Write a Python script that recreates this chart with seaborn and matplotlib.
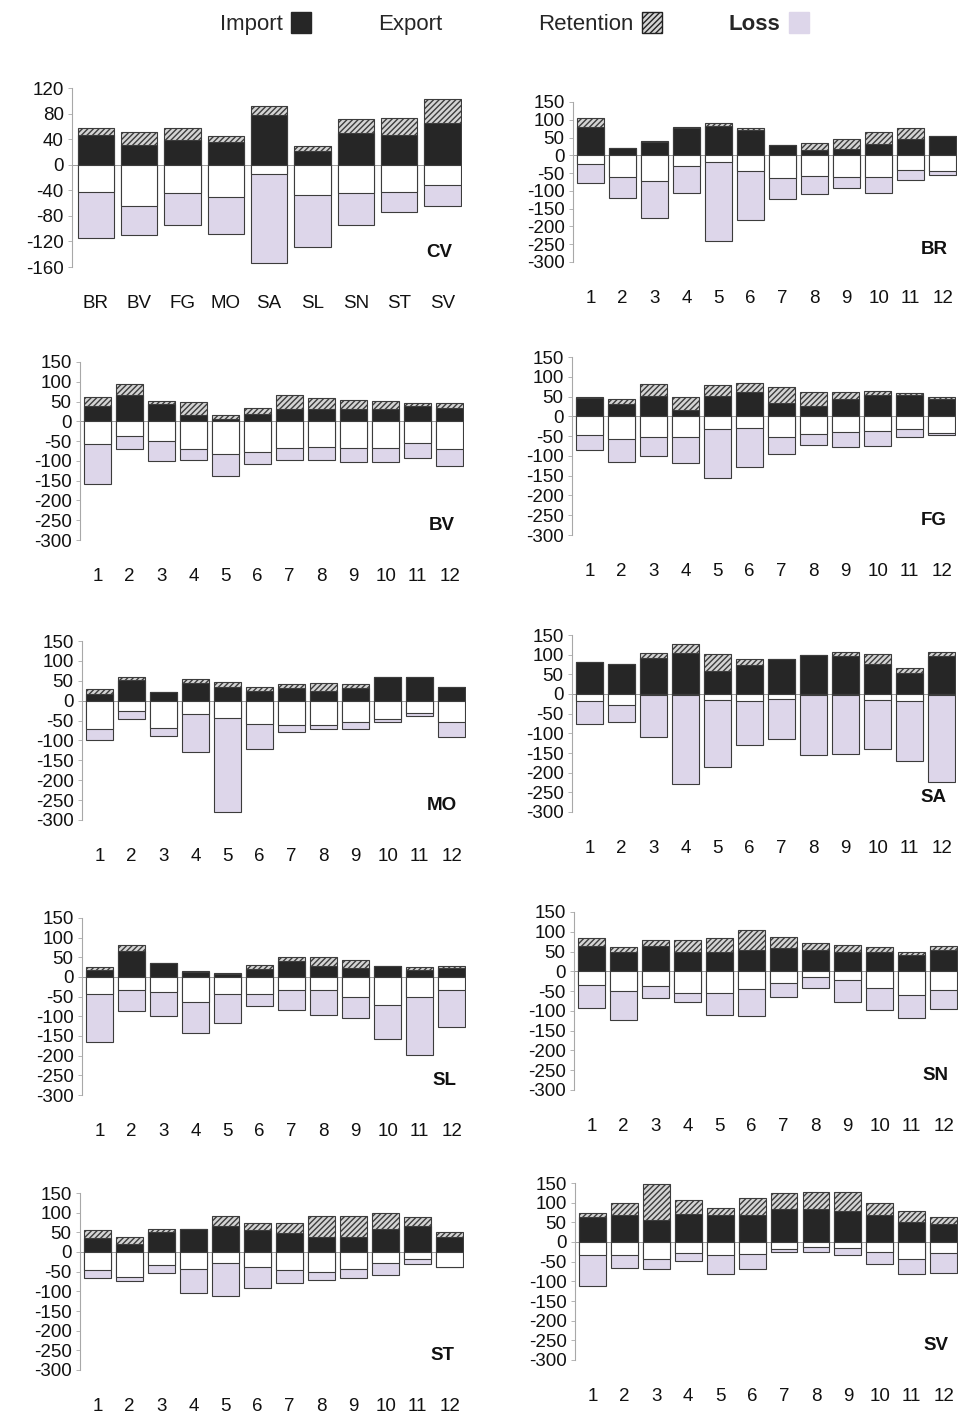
import numpy as np
import matplotlib.pyplot as plt
import seaborn as sns
from matplotlib.patches import Patch

sites = ['BR', 'BV', 'FG', 'MO', 'SA', 'SL', 'SN', 'ST', 'SV']
months = [str(m) for m in range(1, 13)]

# CV panel: one bar per site
cv_import = [46, 31, 38, 35, 78, 21, 50, 46, 65]
cv_retention = [12, 20, 20, 10, 14, 8, 21, 27, 38]
cv_export = [43, 64, 45, 50, 15, 48, 45, 42, 32]
cv_loss = [72, 46, 50, 58, 138, 80, 50, 32, 33]

# monthly panels (export and loss as magnitudes, drawn below zero)
br_import = [80, 20, 38, 78, 83, 70, 29, 16, 19, 32, 46, 53]
br_retention = [24, 0, 2, 2, 7, 7, 0, 20, 26, 34, 31, 0]
br_export = [25, 60, 72, 30, 20, 43, 64, 59, 62, 62, 41, 43]
br_loss = [53, 60, 104, 75, 221, 139, 58, 51, 30, 45, 27, 13]

bv_import = [40, 67, 44, 17, 7, 19, 32, 32, 32, 30, 38, 33]
bv_retention = [22, 27, 8, 31, 8, 14, 35, 26, 23, 22, 8, 14]
bv_export = [58, 37, 49, 71, 83, 78, 68, 66, 67, 68, 56, 69]
bv_loss = [100, 32, 51, 26, 55, 30, 31, 33, 37, 34, 37, 43]

fg_import = [47, 30, 51, 15, 52, 61, 34, 27, 45, 55, 54, 45]
fg_retention = [1, 14, 32, 34, 26, 24, 40, 35, 17, 9, 4, 3]
fg_export = [47, 58, 53, 53, 32, 30, 51, 44, 40, 36, 32, 41]
fg_loss = [38, 57, 47, 66, 123, 98, 43, 28, 38, 39, 21, 6]

mo_import = [17, 52, 23, 44, 35, 24, 31, 25, 31, 59, 59, 34]
mo_retention = [12, 8, 0, 10, 13, 11, 11, 19, 11, 1, 0, 0]
mo_export = [70, 26, 68, 34, 43, 59, 61, 61, 53, 46, 30, 53]
mo_loss = [29, 20, 20, 94, 236, 63, 19, 11, 18, 8, 9, 39]

sa_import = [82, 76, 92, 105, 59, 74, 89, 98, 97, 76, 53, 97]
sa_retention = [0, 0, 11, 21, 42, 14, 0, 0, 9, 25, 14, 9]
sa_export = [17, 28, 3, 3, 15, 17, 13, 3, 3, 15, 18, 3]
sa_loss = [58, 44, 107, 225, 170, 113, 102, 152, 150, 126, 152, 220]

sl_import = [19, 67, 36, 12, 8, 21, 40, 29, 23, 27, 19, 23]
sl_retention = [6, 14, 0, 2, 2, 10, 11, 22, 19, 1, 6, 4]
sl_export = [43, 34, 39, 64, 42, 42, 34, 34, 51, 70, 51, 34]
sl_loss = [121, 52, 59, 79, 75, 31, 51, 62, 52, 88, 147, 93]

sn_import = [65, 50, 63, 48, 48, 54, 59, 54, 48, 48, 42, 53]
sn_retention = [19, 11, 17, 30, 36, 51, 27, 17, 19, 13, 6, 12]
sn_export = [35, 50, 37, 54, 56, 45, 29, 15, 22, 43, 60, 48]
sn_loss = [58, 72, 30, 23, 55, 68, 37, 26, 55, 55, 57, 48]

st_import = [35, 20, 52, 59, 65, 56, 48, 37, 37, 59, 66, 37]
st_retention = [21, 17, 7, 0, 27, 19, 27, 55, 55, 41, 22, 13]
st_export = [47, 64, 34, 42, 29, 38, 47, 50, 43, 28, 17, 39]
st_loss = [20, 10, 19, 63, 84, 54, 31, 20, 24, 31, 13, 0]

sv_import = [64, 68, 55, 70, 68, 68, 83, 83, 79, 68, 51, 47]
sv_retention = [9, 32, 93, 37, 19, 45, 41, 44, 48, 30, 28, 17]
sv_export = [34, 34, 42, 27, 34, 31, 17, 13, 14, 25, 44, 29]
sv_loss = [78, 33, 26, 21, 48, 37, 8, 12, 20, 30, 38, 51]

sns.set_theme(style='white')
plt.rcParams['font.family'] = ['Liberation Sans', 'DejaVu Sans']
plt.rcParams['axes.unicode_minus'] = False
plt.rcParams['hatch.linewidth'] = 1.0

IMPORT_C = '#262626'
LOSS_C = '#ddd6ea'
RET_C = '#d4d4d4'
EDGE_C = '#3c3c3c'
W, H = 958, 1415


def draw_panel(box, cats, imp, ret, exp, loss, name, ylim, ticks):
    l, t, r, b = box
    ax = fig.add_axes([l / W, 1 - b / H, (r - l) / W, (b - t) / H])
    imp, ret = np.array(imp), np.array(ret)
    exp, loss = np.array(exp), np.array(loss)
    kw = dict(order=cats, ax=ax, width=0.84, saturation=1, errorbar=None,
              edgecolor=EDGE_C, linewidth=0.8)
    ax.axhline(0, color='#9a9a9a', lw=0.7, zorder=0)
    sns.barplot(x=cats, y=imp + ret, color=RET_C, hatch='//////', **kw)
    sns.barplot(x=cats, y=imp, color=IMPORT_C, **kw)
    sns.barplot(x=cats, y=-(exp + loss), color=LOSS_C, **kw)
    sns.barplot(x=cats, y=-exp, color='white', **kw)
    ax.set_xlim(-0.55, len(cats) - 0.55)
    ax.set_ylim(*ylim)
    ax.set_yticks(ticks)
    ax.set_xlabel('')
    ax.set_ylabel('')
    sns.despine(ax=ax, bottom=True)
    ax.spines['left'].set_color('#a8a8a8')
    ax.spines['left'].set_linewidth(0.8)
    ax.tick_params(axis='x', length=0, pad=20, labelsize=13.5, colors='#111111')
    ax.tick_params(axis='y', length=3, width=0.6, color='#a8a8a8', pad=3,
                   labelsize=13.5, labelcolor='#111111', left=True)
    ax.text(0.975, 0.08, name, transform=ax.transAxes, ha='right', va='center',
            fontsize=13.5, fontweight='bold', color='#111111')
    return ax


fig = plt.figure(figsize=(W / 100, H / 100), dpi=100)

ticks_m = list(range(-300, 151, 50))
draw_panel((72, 88, 462, 267), sites, cv_import, cv_retention, cv_export, cv_loss,
           'CV', (-160, 120), list(range(-160, 121, 40)))
draw_panel((573, 102, 957, 262), months, br_import, br_retention, br_export, br_loss,
           'BR', (-300, 150), ticks_m)
draw_panel((80, 362, 464, 540), months, bv_import, bv_retention, bv_export, bv_loss,
           'BV', (-300, 150), ticks_m)
draw_panel((572, 357, 956, 535), months, fg_import, fg_retention, fg_export, fg_loss,
           'FG', (-300, 150), ticks_m)
draw_panel((82, 641, 466, 820), months, mo_import, mo_retention, mo_export, mo_loss,
           'MO', (-300, 150), ticks_m)
draw_panel((572, 635, 956, 812), months, sa_import, sa_retention, sa_export, sa_loss,
           'SA', (-300, 150), ticks_m)
draw_panel((82, 918, 466, 1095), months, sl_import, sl_retention, sl_export, sl_loss,
           'SL', (-300, 150), ticks_m)
draw_panel((574, 912, 958, 1090), months, sn_import, sn_retention, sn_export, sn_loss,
           'SN', (-300, 150), ticks_m)
draw_panel((80, 1193, 464, 1370), months, st_import, st_retention, st_export, st_loss,
           'ST', (-300, 150), ticks_m)
draw_panel((575, 1183, 958, 1360), months, sv_import, sv_retention, sv_export, sv_loss,
           'SV', (-300, 150), ticks_m)

handles = [
    Patch(facecolor=IMPORT_C, edgecolor=IMPORT_C),
    Patch(facecolor='white', edgecolor='white'),
    Patch(facecolor=RET_C, edgecolor='#222222', hatch='//////'),
    Patch(facecolor=LOSS_C, edgecolor=LOSS_C),
]
leg = fig.legend(handles, ['Import', 'Export', 'Retention', 'Loss'], loc='upper center',
                 bbox_to_anchor=(0.537, 1.006), ncol=4, frameon=False, markerfirst=False,
                 fontsize=16, handlelength=0.9, handleheight=1.1, handletextpad=0.4,
                 columnspacing=3.0)
leg.get_texts()[3].set_fontweight('bold')

fig.savefig('out.png', dpi=100, facecolor='white')
